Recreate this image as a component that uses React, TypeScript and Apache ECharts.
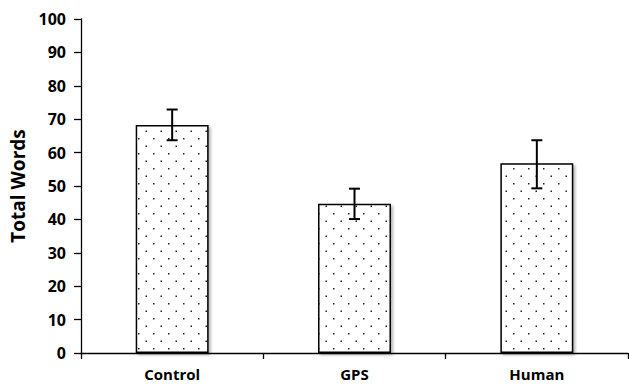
import React, { useEffect, useRef } from "react";
import * as echarts from "echarts";

const categories = ["Control", "GPS", "Human"];
const means = [68.3, 44.7, 56.8];
const errLow = [63.7, 40.1, 49.3];
const errHigh = [72.9, 49.2, 63.7];

function makeDots(): HTMLCanvasElement {
  const c = document.createElement("canvas");
  c.width = 15;
  c.height = 15;
  const ctx = c.getContext("2d")!;
  ctx.fillStyle = "#ffffff";
  ctx.fillRect(0, 0, 15, 15);
  ctx.fillStyle = "#222222";
  ctx.fillRect(3, 3, 1.5, 1.5);
  ctx.fillRect(10.5, 10.5, 1.5, 1.5);
  return c;
}

export default function App() {
  const ref = useRef<HTMLDivElement>(null);
  useEffect(() => {
    const chart = echarts.init(ref.current!, null, { renderer: "svg" });
    const font = "Open Sans";
    chart.setOption({
      animation: false,
      backgroundColor: "#ffffff",
      grid: { left: 81, right: 1, top: 19, bottom: 31, containLabel: false },
      xAxis: {
        type: "category",
        data: categories,
        axisLine: { lineStyle: { color: "#000", width: 1.3 } },
        axisTick: { show: true, alignWithLabel: false, length: 6, lineStyle: { color: "#000", width: 1.3 } },
        axisLabel: { color: "#000", fontFamily: font, fontWeight: "bold", fontSize: 15, margin: 13 },
      },
      yAxis: {
        type: "value",
        min: 0,
        max: 100,
        interval: 10,
        name: "Total Words",
        nameLocation: "middle",
        nameGap: 54,
        nameTextStyle: { color: "#000", fontFamily: font, fontWeight: "bold", fontSize: 19 },
        axisLine: { show: true, lineStyle: { color: "#000", width: 1.3 } },
        axisTick: { show: true, length: 7, lineStyle: { color: "#000", width: 1.3 } },
        splitLine: { show: false },
        axisLabel: { color: "#000", fontFamily: font, fontWeight: "bold", fontSize: 16, margin: 15 },
      },
      series: [
        {
          type: "bar",
          data: means,
          barWidth: "40%",
          itemStyle: {
            color: { image: makeDots(), repeat: "repeat" } as any,
            borderColor: "#000",
            borderWidth: 1.5,
            shadowColor: "rgba(0,0,0,0.3)",
            shadowBlur: 3,
            shadowOffsetX: 2,
            shadowOffsetY: 2,
          },
          z: 2,
        },
        {
          type: "custom",
          z: 5,
          data: categories.map((_, i) => [i, errLow[i], errHigh[i]]),
          renderItem: (params: any, api: any) => {
            const x = api.value(0);
            const lo = api.coord([x, api.value(1)]);
            const hi = api.coord([x, api.value(2)]);
            const hw = 5.5;
            const style = { stroke: "#000", lineWidth: 2, fill: "none" };
            return {
              type: "group",
              children: [
                { type: "line", shape: { x1: lo[0], y1: lo[1], x2: hi[0], y2: hi[1] }, style },
                { type: "line", shape: { x1: lo[0] - hw, y1: lo[1], x2: lo[0] + hw, y2: lo[1] }, style },
                { type: "line", shape: { x1: hi[0] - hw, y1: hi[1], x2: hi[0] + hw, y2: hi[1] }, style },
              ],
            };
          },
        },
      ],
    });
    return () => chart.dispose();
  }, []);
  return <div ref={ref} style={{ width: 629, height: 384, position: "absolute", left: 0, top: 0 }} />;
}
